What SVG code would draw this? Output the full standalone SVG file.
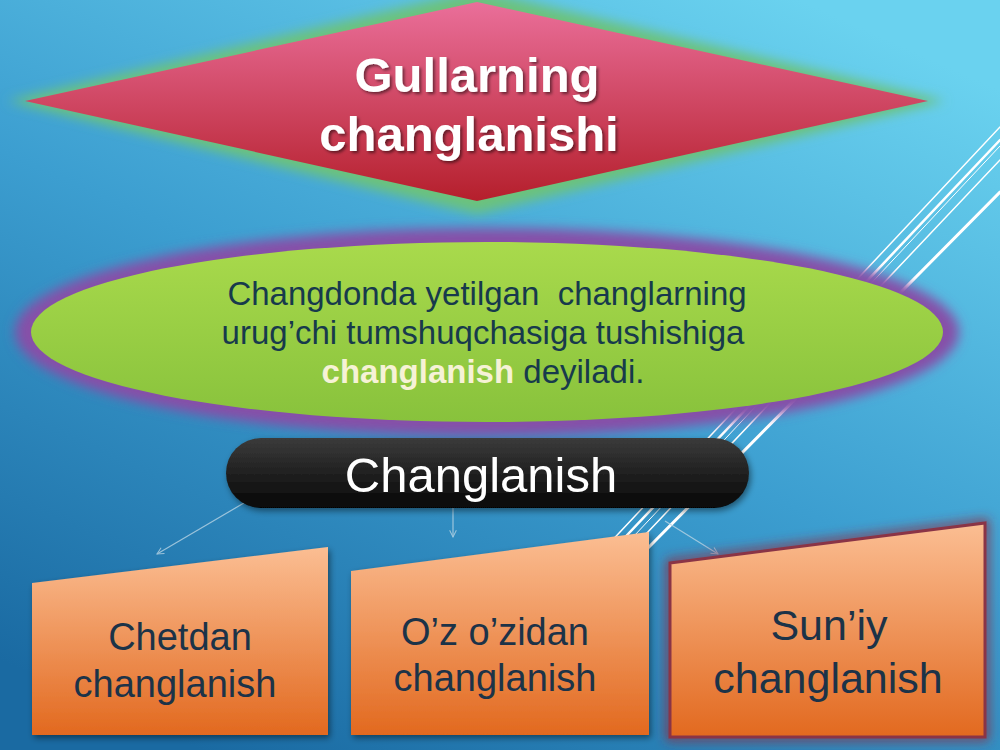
<svg xmlns="http://www.w3.org/2000/svg" width="1000" height="750" viewBox="0 0 1000 750">
  <defs>
    <linearGradient id="bg" x1="0.8" y1="0" x2="0.2" y2="1">
      <stop offset="0" stop-color="#6ad2ef"/>
      <stop offset="0.5" stop-color="#3c9ed0"/>
      <stop offset="1" stop-color="#1a6aa2"/>
    </linearGradient>
    <linearGradient id="diamondFill" x1="0" y1="0" x2="0" y2="1">
      <stop offset="0" stop-color="#ea6f9a"/>
      <stop offset="1" stop-color="#b51f2c"/>
    </linearGradient>
    <linearGradient id="ellFill" x1="0" y1="0" x2="0" y2="1">
      <stop offset="0" stop-color="#a9da4c"/>
      <stop offset="1" stop-color="#88c23c"/>
    </linearGradient>
    <linearGradient id="pillFill" x1="0" y1="0" x2="0" y2="1">
      <stop offset="0" stop-color="#3b3b3b"/>
      <stop offset="1" stop-color="#060606"/>
    </linearGradient>
    <linearGradient id="boxFill" x1="0" y1="0" x2="0" y2="1">
      <stop offset="0" stop-color="#fbbe93"/>
      <stop offset="1" stop-color="#e2691f"/>
    </linearGradient>
    <filter id="glow" x="-10%" y="-30%" width="120%" height="160%">
      <feGaussianBlur stdDeviation="6"/>
    </filter>
    <filter id="softShadow" x="-10%" y="-30%" width="120%" height="160%">
      <feDropShadow dx="2" dy="3" stdDeviation="3" flood-color="#000" flood-opacity="0.45"/>
    </filter>
    <filter id="textShadow" x="-10%" y="-30%" width="120%" height="160%">
      <feDropShadow dx="2" dy="2" stdDeviation="1.5" flood-color="#000" flood-opacity="0.5"/>
    </filter>
    <marker id="arrow" viewBox="0 0 10 10" refX="9" refY="5" markerWidth="7" markerHeight="7" orient="auto-start-reverse">
      <path d="M1,1 L9,5 L1,9" fill="none" stroke="#b8d4e4" stroke-width="1.2"/>
    </marker>
    <style>
      .title { font-family: "Liberation Sans", Arial, sans-serif; font-weight: bold; font-size: 49px; fill: #ffffff; text-anchor: middle; }
      .body { font-family: "Liberation Sans", Arial, sans-serif; font-size: 33px; fill: #173a4c; text-anchor: middle; white-space: pre; }
      .pilltext { font-family: "Liberation Sans", Arial, sans-serif; font-size: 49px; fill: #ffffff; text-anchor: middle; }
      .boxtext { font-family: "Liberation Sans", Arial, sans-serif; font-size: 38px; fill: #1c3348; text-anchor: middle; }
      .boxtext.big { font-size: 43px; }
      .conn { stroke: #b8d4e4; stroke-width: 1.2; fill: none; opacity: 0.8; }
      .deco { stroke: #ffffff; fill: none; stroke-linecap: round; }
    </style>
  </defs>

  <!-- background -->
  <rect x="0" y="0" width="1000" height="750" fill="url(#bg)"/>

  <!-- decorative diagonal lines -->
  <g id="decoration">
    <line class="deco" x1="1000" y1="127" x2="605" y2="548" stroke-width="1.5"/>
    <line class="deco" x1="1000" y1="140" x2="613" y2="550" stroke-width="2.5"/>
    <line class="deco" x1="1000" y1="146" x2="619" y2="552" stroke-width="1"/>
    <line class="deco" x1="1000" y1="160" x2="628" y2="553" stroke-width="1.5"/>
    <line class="deco" x1="1000" y1="192" x2="648" y2="548" stroke-width="3"/>
  </g>

  <!-- connectors -->
  <g id="connectors">
    <line class="conn" x1="249" y1="500" x2="157" y2="554" marker-end="url(#arrow)"/>
    <line class="conn" x1="453" y1="508" x2="453" y2="537" marker-end="url(#arrow)"/>
    <line class="conn" x1="665" y1="521" x2="718" y2="554" marker-end="url(#arrow)"/>
  </g>

  <!-- title diamond -->
  <g id="node-title">
    <polygon points="477,-10 945,101 477,214 8,101" fill="#6cc27c" filter="url(#glow)"/>
    <polygon points="477,2 928,101 477,201 25,101" fill="url(#diamondFill)"/>
    <g filter="url(#textShadow)">
      <text class="title" x="477" y="92">Gullarning</text>
      <text class="title" x="469" y="151">changlanishi</text>
    </g>
  </g>

  <!-- definition ellipse -->
  <g id="node-definition">
    <ellipse cx="487" cy="332" rx="472" ry="104" fill="#8650a8" filter="url(#glow)"/>
    <ellipse cx="487" cy="332" rx="456" ry="90" fill="url(#ellFill)"/>
    <text class="body" x="487" y="305" xml:space="preserve">Changdonda yetilgan  changlarning</text>
    <text class="body" x="483" y="344">urug’chi tumshuqchasiga tushishiga</text>
    <text class="body" x="483" y="383"><tspan font-weight="bold" fill="#f6f2d6">changlanish</tspan> deyiladi.</text>
  </g>

  <!-- Changlanish pill -->
  <g id="node-changlanish">
    <rect x="226" y="438" width="523" height="70" rx="35" ry="35" fill="url(#pillFill)" filter="url(#softShadow)"/>
    <text class="pilltext" x="481" y="492">Changlanish</text>
  </g>

  <!-- bottom boxes -->
  <g id="node-chetdan">
    <polygon points="32,583 328,547 328,735 32,735" fill="url(#boxFill)" filter="url(#softShadow)"/>
    <text class="boxtext" x="180" y="650">Chetdan</text>
    <text class="boxtext" x="175" y="697">changlanish</text>
  </g>

  <g id="node-ozozidan">
    <polygon points="351,571 649,532 649,735 351,735" fill="url(#boxFill)" filter="url(#softShadow)"/>
    <text class="boxtext" x="495" y="645">O’z o’zidan</text>
    <text class="boxtext" x="495" y="691">changlanish</text>
  </g>

  <g id="node-suniy">
    <polygon points="670,563 985,523 985,737 670,737" fill="none" stroke="#8e2f45" stroke-width="7" filter="url(#glow)"/>
    <polygon points="670,563 985,523 985,737 670,737" fill="url(#boxFill)" stroke="#8a3446" stroke-width="3"/>
    <text class="boxtext big" x="829" y="640">Sun’iy</text>
    <text class="boxtext big" x="828" y="693">changlanish</text>
  </g>
</svg>
